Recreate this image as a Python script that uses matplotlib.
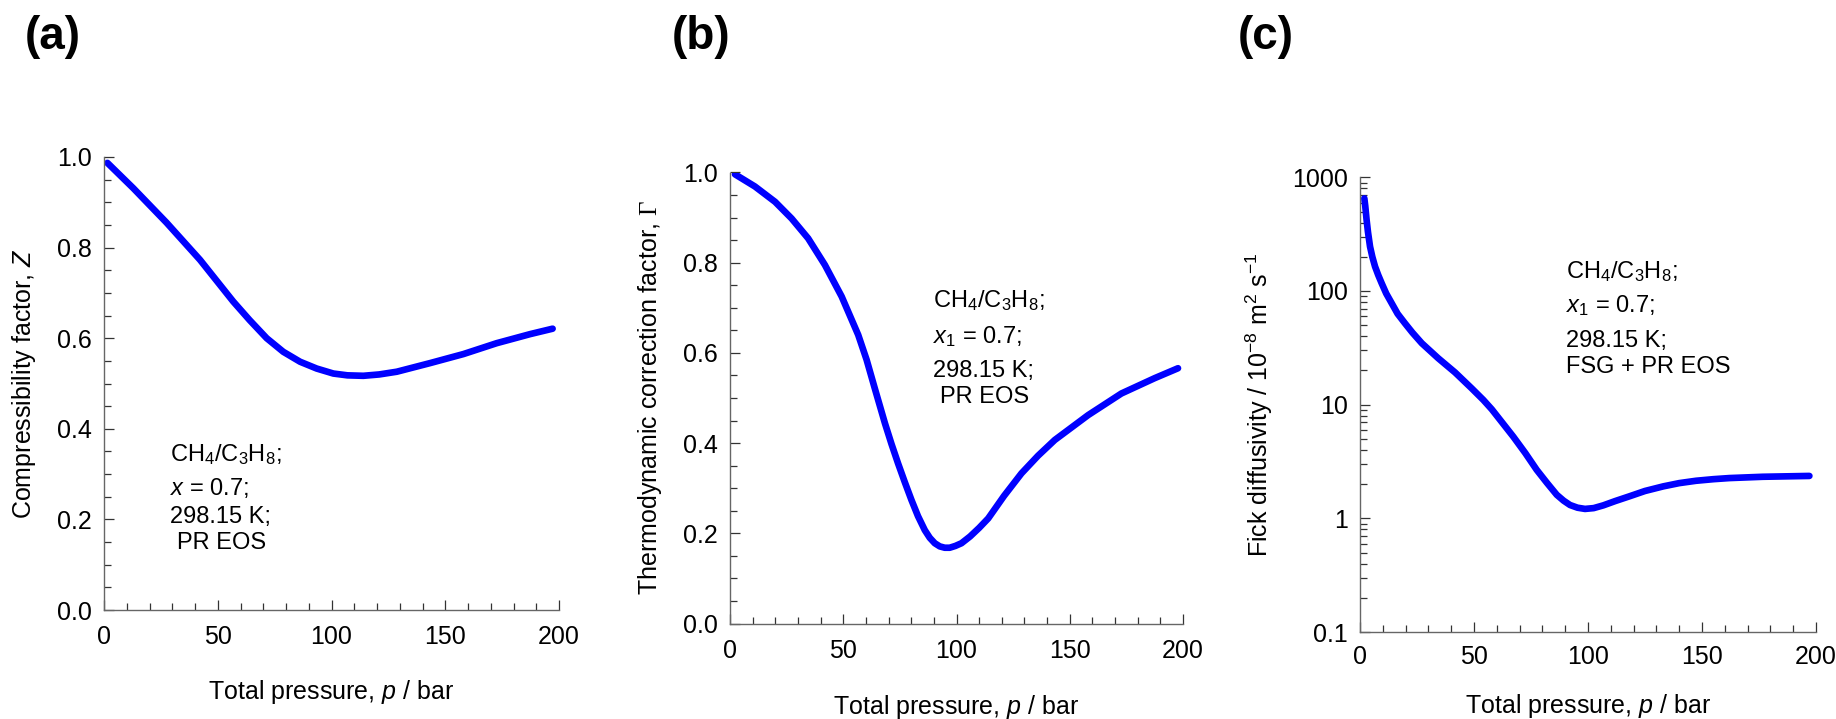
import matplotlib.pyplot as plt
from matplotlib.ticker import MultipleLocator, LogLocator, NullFormatter

plt.rcParams['font.family'] = ['Liberation Sans', 'DejaVu Sans']
plt.rcParams['mathtext.fontset'] = 'custom'
plt.rcParams['mathtext.rm'] = 'Liberation Sans'
plt.rcParams['mathtext.it'] = 'Liberation Sans:italic'
plt.rcParams['mathtext.tt'] = 'Liberation Serif'

# (a) compressibility factor Z vs total pressure
A_P = [1.5, 12.9, 27.5, 42.2, 56.8, 64.0, 71.5, 78.8, 86.2, 93.5, 100.8, 107.0,
       114.0, 121.0, 128.7, 143.3, 158.0, 172.6, 187.3, 197.2]
A_Z = [0.987, 0.931, 0.855, 0.773, 0.681, 0.640, 0.600, 0.570, 0.548, 0.533,
       0.522, 0.518, 0.517, 0.520, 0.526, 0.545, 0.565, 0.589, 0.609, 0.621]

# (b) thermodynamic correction factor
B_P = [2.2, 11.0, 19.9, 27.2, 34.5, 41.9, 49.3, 56.6, 60.3, 64.0, 68.4, 71.3,
       74.2, 77.2, 80.1, 83.0, 86.0, 88.2, 90.4, 92.6, 94.8, 97.0, 99.5, 102.2,
       106.0, 110.0, 114.0, 121.0, 128.7, 136.0, 143.4, 158.1, 172.8, 187.5, 197.8]
B_G = [0.996, 0.969, 0.935, 0.898, 0.854, 0.795, 0.725, 0.640, 0.585, 0.520,
       0.444, 0.398, 0.355, 0.313, 0.274, 0.238, 0.207, 0.190, 0.178, 0.171,
       0.168, 0.168, 0.172, 0.178, 0.193, 0.212, 0.233, 0.283, 0.333, 0.372,
       0.407, 0.462, 0.510, 0.544, 0.566]

# (c) Fick diffusivity, 1e-8 m2/s
C_P = [1.9, 2.3, 2.9, 3.5, 4.4, 5.4, 6.6, 8.0, 9.5, 11.5, 13.9, 16.5, 19.7, 23.0,
       27.1, 34.3, 41.7, 49.0, 54.1, 57.8, 67.2, 72.5, 77.5, 82.0, 86.3, 89.3,
       92.1, 95.4, 98.7, 102.5, 106.7, 112.0, 118.1, 125.0, 133.0, 140.0, 147.4,
       155.0, 162.0, 176.6, 197.1]
C_D = [653, 560, 421, 330, 246, 200, 164, 138, 117, 95, 78, 63, 52, 43,
       34.7, 25.6, 19.2, 13.9, 11.0, 9.1, 5.24, 3.75, 2.67, 2.05, 1.61, 1.43,
       1.31, 1.24, 1.21, 1.23, 1.30, 1.42, 1.56, 1.74, 1.91, 2.04, 2.14,
       2.21, 2.26, 2.32, 2.36]

LOG_TICKS = [0.1, 1, 10, 100, 1000]
LOG_LABELS = ["0.1", "1", "10", "100", "1000"]

XLABEL = "Total pressure, $p$ / bar"

W, H = 1836, 719
fig = plt.figure(figsize=(W / 100, H / 100), dpi=100)


def box(left, top, right, bottom):
    # pixel box -> figure fraction
    return [left / W, 1 - bottom / H, (right - left) / W, (bottom - top) / H]


def style(ax, xpad=11):
    for side in ["top", "right"]:
        ax.spines[side].set_visible(False)
    for side in ["left", "bottom"]:
        ax.spines[side].set_color("#666666")
        ax.spines[side].set_linewidth(1.0)
    ax.tick_params(which="both", direction="in", color="#333333", width=0.9)
    ax.tick_params(which="major", length=7, labelsize=18, pad=9)
    ax.tick_params(which="minor", length=5)
    ax.tick_params(axis="x", which="major", pad=xpad)
    ax.set_xlim(0, 200)
    ax.xaxis.set_major_locator(MultipleLocator(50))
    ax.xaxis.set_minor_locator(MultipleLocator(10))


def px_text(x, y, s, **kw):
    fig.text(x / W, 1 - y / H, s, va="baseline", ha="left", fontsize=17, **kw)


line_kw = dict(color="#0000ff", lw=4.8, solid_capstyle="round", solid_joinstyle="round")

# panel a
ax_a = fig.add_axes(box(104, 157, 559, 610))
style(ax_a)
ax_a.plot(A_P, A_Z, **line_kw)
ax_a.set_ylim(0, 1)
ax_a.yaxis.set_major_locator(MultipleLocator(0.2))
ax_a.yaxis.set_minor_locator(MultipleLocator(0.05))
ax_a.set_ylabel("Compressibility factor, $Z$", fontsize=18)
ax_a.set_xlabel(XLABEL, fontsize=18)
ax_a.yaxis.set_label_coords(-0.145, 0.5)
ax_a.xaxis.set_label_coords(0.5, -0.150)

# panel b
ax_b = fig.add_axes(box(730, 172.5, 1183, 623.5))
style(ax_b)
ax_b.plot(B_P, B_G, **line_kw)
ax_b.set_ylim(0, 1)
ax_b.yaxis.set_major_locator(MultipleLocator(0.2))
ax_b.yaxis.set_minor_locator(MultipleLocator(0.05))
ax_b.set_ylabel(r"Thermodynamic correction factor, $\mathtt{\Gamma}$", fontsize=18)
ax_b.set_xlabel(XLABEL, fontsize=18)
ax_b.yaxis.set_label_coords(-0.145, 0.5)
ax_b.xaxis.set_label_coords(0.5, -0.153)

# panel c
ax_c = fig.add_axes(box(1360, 177.3, 1816, 632))
style(ax_c, xpad=9.5)
ax_c.plot(C_P, C_D, **line_kw)
ax_c.set_yscale("log")
ax_c.set_ylim(0.1, 1000)
ax_c.set_yticks(LOG_TICKS, labels=LOG_LABELS)
ax_c.yaxis.set_minor_locator(LogLocator(base=10, subs=range(2, 10)))
ax_c.yaxis.set_minor_formatter(NullFormatter())
ax_c.set_ylabel("Fick diffusivity / 10$^{-8}$ m$^{2}$ s$^{-1}$", fontsize=18)
ax_c.set_xlabel(XLABEL, fontsize=18)
ax_c.yaxis.set_label_coords(-0.187, 0.5)
ax_c.xaxis.set_label_coords(0.5, -0.133)

# annotations
px_text(170.4, 461, "CH$_4$/C$_3$H$_8$;")
px_text(170.4, 495, "$x$ = 0.7;")
px_text(170.4, 523, "298.15 K;")
px_text(177, 549, "PR EOS")

px_text(933, 307, "CH$_4$/C$_3$H$_8$;")
px_text(933, 342.7, "$x_1$ = 0.7;")
px_text(933, 376.7, "298.15 K;")
px_text(940, 402.7, "PR EOS")

px_text(1566, 278.3, "CH$_4$/C$_3$H$_8$;")
px_text(1566, 311.7, "$x_1$ = 0.7;")
px_text(1566, 346.7, "298.15 K;")
px_text(1566, 373.3, "FSG + PR EOS")

# panel letters
for x, s in [(53, "(a)"), (701, "(b)"), (1266, "(c)")]:
    fig.text(x / W, 1 - 37 / H, s, ha="center", va="center", fontsize=33, fontweight="bold")

fig.savefig("out.png", dpi=100)
